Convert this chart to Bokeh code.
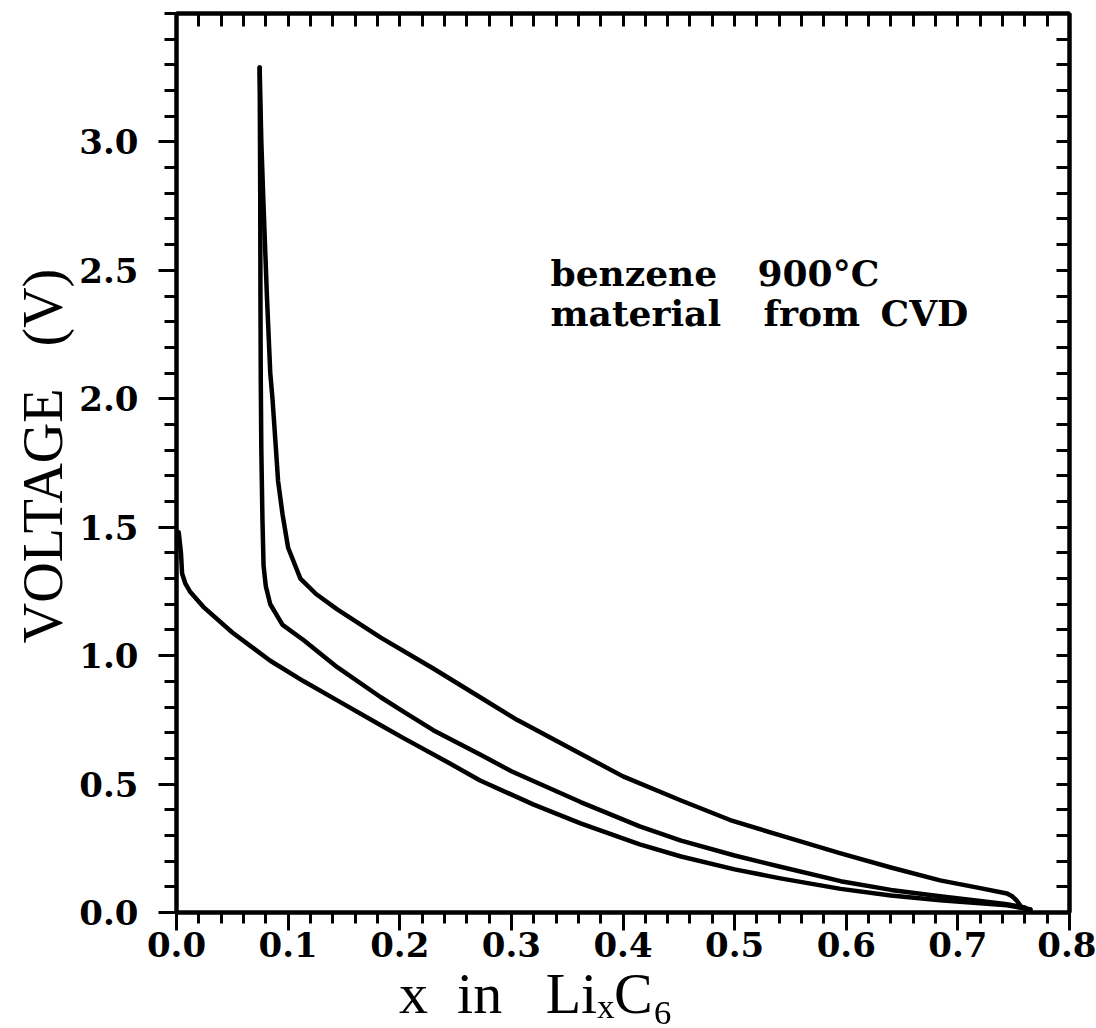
from bokeh.plotting import figure
from bokeh.models import (FixedTicker, LinearAxis, Label, Range1d, PrintfTickFormatter)
from bokeh.embed import file_html
from bokeh.resources import INLINE

# ---------------- data ----------------
discharge1_x = [0.002, 0.004, 0.005, 0.008, 0.012, 0.024, 0.05, 0.084, 0.114, 0.144, 0.183, 0.203,
                0.245, 0.272, 0.32, 0.362, 0.415, 0.452, 0.50, 0.541, 0.595, 0.64,
                0.684, 0.72, 0.744, 0.765]
discharge1_v = [1.48, 1.40, 1.32, 1.28, 1.25, 1.19, 1.09, 0.98, 0.90, 0.826, 0.729, 0.68,
                0.58, 0.514, 0.42, 0.347, 0.265, 0.218, 0.168, 0.133, 0.092, 0.066,
                0.048, 0.036, 0.028, 0.012]

charge_x = [0.765, 0.757, 0.753, 0.749, 0.744, 0.72, 0.684, 0.64, 0.595, 0.541, 0.496,
            0.452, 0.40, 0.362, 0.305, 0.272, 0.23, 0.183, 0.144, 0.125, 0.111, 0.100,
            0.095, 0.091, 0.089, 0.086, 0.084, 0.081, 0.078, 0.076, 0.0745]
charge_v = [0.012, 0.02, 0.045, 0.062, 0.074, 0.095, 0.125, 0.175, 0.23, 0.30, 0.36,
            0.436, 0.53, 0.618, 0.75, 0.838, 0.95, 1.07, 1.18, 1.24, 1.30, 1.42,
            1.55, 1.68, 1.81, 2.0, 2.1, 2.4, 2.75, 3.0, 3.29]

discharge2_x = [0.0745, 0.075, 0.0752, 0.0755, 0.076, 0.077, 0.078, 0.080, 0.084, 0.095,
                0.114, 0.144, 0.183, 0.204, 0.23, 0.272, 0.30, 0.362, 0.415, 0.452,
                0.50, 0.541, 0.595, 0.64, 0.684, 0.72, 0.744, 0.76]
discharge2_v = [3.29, 2.8, 2.4, 2.07, 1.8, 1.53, 1.35, 1.27, 1.20, 1.12,
                1.06, 0.955, 0.838, 0.78, 0.71, 0.615, 0.55, 0.43, 0.335, 0.28,
                0.222, 0.178, 0.122, 0.088, 0.063, 0.045, 0.032, 0.02]

x_major_ticks = [0.0, 0.1, 0.2, 0.3, 0.4, 0.5, 0.6, 0.7, 0.8]
x_minor_ticks = [round(i * 0.02, 2) for i in range(41)]
y_major_ticks = [0.0, 0.5, 1.0, 1.5, 2.0, 2.5, 3.0]
y_minor_ticks = [round(i * 0.1, 1) for i in range(36)]

# x in Li_x C_6 (unicode subscripts); spacing chars keep the title where the original has it
x_label_text = "x\u2002in\u2002\u00a0Li\u2093C\u2086" + "\u2002" * 6
y_label_text = "\u00a0VOLTAGE\u00a0\u00a0\u00a0(V)"
note_line1 = ["benzene", "900°C"]
note_line2 = ["material", "from", "CVD"]

# ---------------- figure ----------------
W, H = 1096, 1028
FL, FR, FT, FB = 176, 1069, 13, 912

p = figure(width=W, height=H, output_backend="svg", toolbar_location=None,
           x_range=Range1d(0, 0.8), y_range=Range1d(0, 3.5),
           x_axis_type=None, y_axis_type=None,
           min_border_left=FL, min_border_right=W - FR,
           min_border_top=FT, min_border_bottom=H - FB)
p.background_fill_color = "white"
p.border_fill_color = "white"
p.outline_line_color = "black"
p.outline_line_width = 4
p.xgrid.visible = False
p.ygrid.visible = False

tick_font = "DejaVu Serif"
tick_size = "34px"

xb = LinearAxis(ticker=FixedTicker(ticks=x_major_ticks, minor_ticks=x_minor_ticks),
                formatter=PrintfTickFormatter(format="%.1f"))
xb.major_tick_out = 18
xb.major_tick_in = 0
xb.minor_tick_out = 11
xb.minor_tick_in = 0
xb.major_label_standoff = 1
xb.axis_label = x_label_text
xb.axis_label_text_font = "Liberation Serif"
xb.axis_label_text_font_size = "58px"
xb.axis_label_text_font_style = "normal"
xb.axis_label_text_color = "black"
xb.axis_label_standoff = 1
p.add_layout(xb, "below")

yl = LinearAxis(ticker=FixedTicker(ticks=y_major_ticks, minor_ticks=y_minor_ticks),
                formatter=PrintfTickFormatter(format="%.1f"))
yl.major_tick_out = 18
yl.major_tick_in = 0
yl.minor_tick_out = 12
yl.minor_tick_in = 0
yl.major_label_standoff = 20
yl.axis_label = y_label_text
yl.axis_label_text_font = "Liberation Serif"
yl.axis_label_text_font_size = "56px"
yl.axis_label_text_font_style = "normal"
yl.axis_label_text_color = "black"
yl.axis_label_standoff = 2
p.add_layout(yl, "left")

# top and right: inward ticks only, no labels
xt = LinearAxis(ticker=FixedTicker(ticks=[], minor_ticks=x_minor_ticks))
xt.minor_tick_out = 0
xt.minor_tick_in = 13
p.add_layout(xt, "above")

yr = LinearAxis(ticker=FixedTicker(ticks=[], minor_ticks=y_minor_ticks))
yr.minor_tick_out = 0
yr.minor_tick_in = 13
p.add_layout(yr, "right")

for ax in (xb, yl, xt, yr):
    ax.axis_line_color = "black"
    ax.axis_line_width = 4
    ax.major_tick_line_color = "black"
    ax.minor_tick_line_color = "black"
    ax.major_tick_line_width = 3
    ax.minor_tick_line_width = 3
for ax in (xb, yl):
    ax.major_label_text_font = tick_font
    ax.major_label_text_font_style = "bold"
    ax.major_label_text_color = "black"
    ax.major_label_text_font_size = tick_size

# ---------------- curves ----------------
for xs, vs in ((discharge1_x, discharge1_v), (charge_x, charge_v),
               (discharge2_x, discharge2_v)):
    p.line(xs, vs, line_color="black", line_width=4.5, line_join="round", line_cap="round")

# ---------------- annotation ----------------
def px2x(px):
    return (px - FL) / (FR - FL) * 0.8

def py2y(py):
    return (FB - py) / (FB - FT) * 3.5

for t, lx in zip(note_line1, (550, 757)):
    p.add_layout(Label(x=px2x(lx), y=py2y(272), text=t, text_align="left",
                       text_baseline="alphabetic", text_font="DejaVu Serif",
                       text_font_size="36px", text_font_style="bold", text_color="black"))
for t, lx in zip(note_line2, (550, 763, 880)):
    p.add_layout(Label(x=px2x(lx), y=py2y(312), text=t, text_align="left",
                       text_baseline="alphabetic", text_font="DejaVu Serif",
                       text_font_size="36px", text_font_style="bold", text_color="black"))

open("out.html", "w").write(file_html(p, INLINE))
